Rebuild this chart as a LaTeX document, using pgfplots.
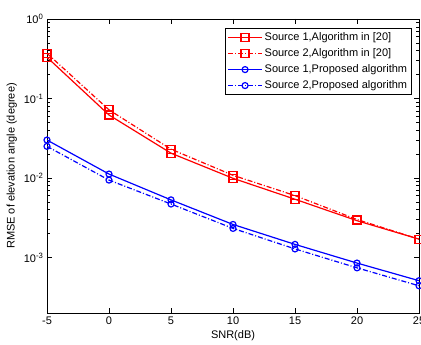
\documentclass[border=0pt]{standalone}
\usepackage{pgfplots}
\pgfplotsset{compat=1.18}
\usepackage{fontspec}
\setmainfont{Liberation Sans}
\begin{document}
\begin{tikzpicture}
\begin{axis}[
  scale only axis,
  width=372pt, height=294pt,
  ymode=log,
  xmin=-5, xmax=25, ymin=2e-4, ymax=1,
  xtick={-5,0,5,10,15,20,25},
  ytick={1e-3,1e-2,1e-1,1},
  yticklabels={10\textsuperscript{-3},10\textsuperscript{-2},10\textsuperscript{-1},10\textsuperscript{0}},
  /pgf/number format/assume math mode=true,
  tick align=inside,
  tick style={black, line width=0.4pt},
  major tick length=5pt, minor tick length=3pt,
  font=\fontsize{11}{13}\selectfont,
  xlabel={SNR(dB)}, ylabel={RMSE of elevation angle (degree)},
  xlabel style={yshift=1pt},
  ylabel style={yshift=0pt},
  every axis/.append style={line width=0.6pt},
  legend cell align=left,
  legend style={at={(0.981,0.969)}, anchor=north east, draw=black, line width=0.6pt,
    font=\fontsize{11}{13}\selectfont, row sep=2.5pt, inner sep=2.5pt},
  legend image code/.code={\draw[mark repeat=2,mark phase=2] plot coordinates {(0pt,0pt)(17pt,0pt)(34pt,0pt)};},
]
\addplot[red, line width=1.2pt, mark=square, mark size=4pt, mark options={solid}] coordinates {
(-5,0.33) (0,0.062) (5,0.0205) (10,0.0099) (15,0.0054) (20,0.0029) (25,0.0017)};
\addlegendentry{Source 1,Algorithm in [20]}
\addplot[red, line width=1.2pt, dash pattern=on 5pt off 2pt on 1pt off 2pt, mark=square, mark size=4pt, mark options={solid}] coordinates {
(-5,0.37) (0,0.072) (5,0.023) (10,0.0108) (15,0.006) (20,0.003) (25,0.0017)};
\addlegendentry{Source 2,Algorithm in [20]}
\addplot[blue, line width=1.2pt, mark=o, mark size=3pt, mark options={solid}] coordinates {
(-5,0.030) (0,0.0112) (5,0.0053) (10,0.0026) (15,0.00146) (20,0.00085) (25,0.00051)};
\addlegendentry{Source 1,Proposed algorithm}
\addplot[blue, line width=1.2pt, dash pattern=on 5pt off 2pt on 1pt off 2pt, mark=o, mark size=3pt, mark options={solid}] coordinates {
(-5,0.025) (0,0.0094) (5,0.0047) (10,0.00232) (15,0.00128) (20,0.00074) (25,0.00044)};
\addlegendentry{Source 2,Proposed algorithm}
\end{axis}
\pgfresetboundingbox
\path ([shift={(-47pt,-31pt)}]current axis.south west) rectangle ([shift={(2pt,19pt)}]current axis.north east);
\end{tikzpicture}
\end{document}
